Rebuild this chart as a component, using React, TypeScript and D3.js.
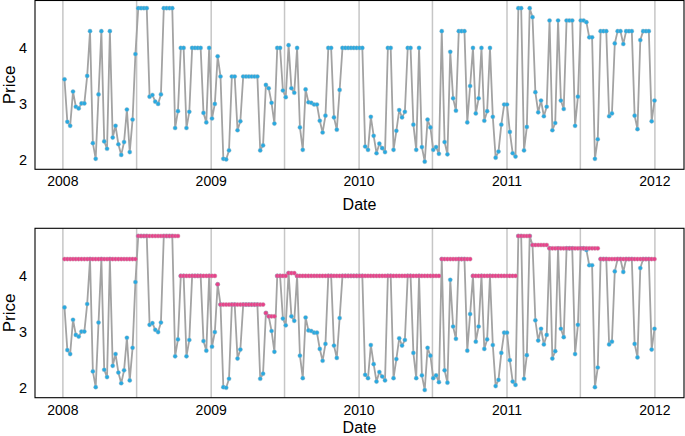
import React from "react";
import * as d3 from "d3";

const startDate = "2008-01-05";
const price: number[] = [
  3.43, 2.67, 2.6, 3.21, 2.94, 2.91, 3.0, 3.0, 3.49, 4.29,
  2.29, 2.01, 3.16, 4.29, 2.32, 2.19, 4.29, 2.39, 2.6, 2.27,
  2.08, 2.31, 2.89, 2.13, 2.71, 3.88, 4.7, 4.7, 4.7, 4.7,
  3.12, 3.15, 3.03, 2.99, 3.16, 4.7, 4.7, 4.7, 4.7, 2.56,
  2.86, 3.99, 3.99, 2.56, 2.85, 3.99, 3.99, 3.99, 3.99, 2.83,
  2.66, 3.99, 2.73, 2.99, 3.84, 3.48, 2.01, 2.0, 2.16, 3.48,
  3.48, 2.52, 2.68, 3.48, 3.48, 3.48, 3.48, 3.48, 3.48, 2.16,
  2.25, 3.33, 3.27, 3.01, 2.64, 3.99, 3.99, 3.23, 3.11, 4.04,
  3.27, 3.19, 3.99, 2.57, 2.17, 3.25, 3.02, 3.01, 2.98, 2.98,
  2.69, 2.48, 2.78, 3.99, 3.99, 2.75, 2.53, 3.24, 3.99, 3.99,
  3.99, 3.99, 3.99, 3.99, 3.99, 3.99, 2.23, 2.17, 2.76, 2.42,
  2.11, 2.28, 2.2, 2.13, 3.99, 3.99, 2.17, 2.51, 2.88, 2.75,
  2.85, 3.99, 3.99, 2.62, 2.17, 3.99, 2.22, 1.96, 2.71, 2.57,
  2.17, 2.22, 2.1, 4.29, 2.31, 2.09, 3.92, 3.09, 2.87, 4.29,
  4.29, 4.29, 2.66, 3.31, 3.99, 2.82, 3.09, 3.99, 2.69, 2.86,
  3.99, 2.76, 2.03, 2.14, 2.62, 2.98, 2.98, 2.49, 2.11, 2.05,
  4.7, 4.7, 2.16, 2.58, 4.7, 4.54, 3.2, 2.84, 3.05, 2.77,
  2.94, 4.48, 2.52, 2.65, 4.48, 3.05, 2.9, 4.48, 4.48, 4.48,
  2.6, 3.12, 4.48, 4.48, 4.45, 4.18, 4.18, 2.01, 2.36, 4.29,
  4.29, 4.29, 2.77, 2.82, 4.07, 4.29, 4.29, 4.06, 4.29, 4.29,
  4.29, 2.78, 2.54, 4.13, 4.29, 4.29, 4.29, 2.68, 3.05,
];
const regular: number[] = [
  4.29, 4.29, 4.29, 4.29, 4.29, 4.29, 4.29, 4.29, 4.29, 4.29,
  4.29, 4.29, 4.29, 4.29, 4.29, 4.29, 4.29, 4.29, 4.29, 4.29,
  4.29, 4.29, 4.29, 4.29, 4.29, 4.29, 4.7, 4.7, 4.7, 4.7,
  4.7, 4.7, 4.7, 4.7, 4.7, 4.7, 4.7, 4.7, 4.7, 4.7,
  4.7, 3.99, 3.99, 3.99, 3.99, 3.99, 3.99, 3.99, 3.99, 3.99,
  3.99, 3.99, 3.99, 3.99, 3.84, 3.48, 3.48, 3.48, 3.48, 3.48,
  3.48, 3.48, 3.48, 3.48, 3.48, 3.48, 3.48, 3.48, 3.48, 3.48,
  3.48, 3.33, 3.27, 3.27, 3.27, 3.99, 3.99, 3.99, 3.99, 4.04,
  4.04, 4.04, 3.99, 3.99, 3.99, 3.99, 3.99, 3.99, 3.99, 3.99,
  3.99, 3.99, 3.99, 3.99, 3.99, 3.99, 3.99, 3.99, 3.99, 3.99,
  3.99, 3.99, 3.99, 3.99, 3.99, 3.99, 3.99, 3.99, 3.99, 3.99,
  3.99, 3.99, 3.99, 3.99, 3.99, 3.99, 3.99, 3.99, 3.99, 3.99,
  3.99, 3.99, 3.99, 3.99, 3.99, 3.99, 3.99, 3.99, 3.99, 3.99,
  3.99, 3.99, 3.99, 4.29, 4.29, 4.29, 4.29, 4.29, 4.29, 4.29,
  4.29, 4.29, 4.29, 4.29, 3.99, 3.99, 3.99, 3.99, 3.99, 3.99,
  3.99, 3.99, 3.99, 3.99, 3.99, 3.99, 3.99, 3.99, 3.99, 3.99,
  4.7, 4.7, 4.7, 4.7, 4.7, 4.54, 4.54, 4.54, 4.54, 4.54,
  4.54, 4.48, 4.48, 4.48, 4.48, 4.48, 4.48, 4.48, 4.48, 4.48,
  4.48, 4.48, 4.48, 4.48, 4.48, 4.48, 4.48, 4.48, 4.48, 4.29,
  4.29, 4.29, 4.29, 4.29, 4.29, 4.29, 4.29, 4.29, 4.29, 4.29,
  4.29, 4.29, 4.29, 4.29, 4.29, 4.29, 4.29, 4.29, 4.29,
];
const yTicks = [2, 3, 4];
const xTickYears = [2008, 2009, 2010, 2011, 2012];

const W = 685;
const H = 436;
const FONT = "'Liberation Sans', Arial, Helvetica, sans-serif";

type Row = { date: Date; p: number; r: number };

function Panel({ top, bottom, titleY, showRegular, rows }: { top: number; bottom: number; titleY: number; showRegular: boolean; rows: Row[] }) {
  const left = 35;
  const right = 684;
  const first = rows[0].date;
  const last = rows[rows.length - 1].date;
  const span = last.getTime() - first.getTime();
  const x = d3
    .scaleTime()
    .domain([new Date(first.getTime() - span * 0.05), new Date(last.getTime() + span * 0.05)])
    .range([left, right]);
  const y = d3.scaleLinear().domain([1.823, 4.837]).range([bottom, top]);
  const line = d3
    .line<Row>()
    .x((d) => x(d.date))
    .y((d) => y(d.p));
  const grid: Date[] = [];
  xTickYears.forEach((yr) => {
    grid.push(new Date(yr, 0, 1));
    if (yr < 2012) grid.push(new Date(yr, 6, 1));
  });
  return (
    <g>
      {grid.map((g, i) => (
        <line key={i} x1={x(g)} x2={x(g)} y1={top} y2={bottom} stroke="#c6c6c6" strokeWidth={1.5} />
      ))}
      <path d={line(rows) || ""} fill="none" stroke="#a3a3a3" strokeWidth={1.8} strokeLinejoin="round" />
      {rows.map((d, i) => (
        <circle key={"b" + i} cx={x(d.date)} cy={y(d.p)} r={2.1} fill="#27a9e1" stroke="#9fb5c0" strokeWidth={0.4} />
      ))}
      {showRegular &&
        rows.map((d, i) => (
          <circle key={"r" + i} cx={x(d.date)} cy={y(d.r)} r={2.1} fill="#e8418a" stroke="#c0a0ae" strokeWidth={0.4} />
        ))}
      <rect x={left} y={top} width={right - left} height={bottom - top} fill="none" stroke="#000" strokeWidth={1.1} />
      {yTicks.map((t) => (
        <text key={t} x={27} y={y(t)} dy="0.36em" textAnchor="end" fontSize={14.5} fontFamily={FONT} fill="#000">
          {t}
        </text>
      ))}
      {xTickYears.map((yr) => (
        <text key={yr} x={x(new Date(yr, 0, 1))} y={bottom + 17} textAnchor="middle" fontSize={14} fontFamily={FONT} fill="#000">
          {yr}
        </text>
      ))}
      <text
        transform={`translate(15,${(top + bottom) / 2}) rotate(-90)`}
        textAnchor="middle"
        fontSize={17}
        fontFamily={FONT}
        fill="#000"
      >
        Price
      </text>
      <text x={(left + right) / 2} y={titleY} textAnchor="middle" fontSize={16} fontFamily={FONT} fill="#000">
        Date
      </text>
    </g>
  );
}

export default function App() {
  const t0 = d3.timeParse("%Y-%m-%d")(startDate) as Date;
  const rows: Row[] = price.map((p, i) => ({ date: d3.timeDay.offset(t0, 7 * i), p, r: regular[i] }));
  return (
    <svg width={W} height={H} style={{ position: "absolute", left: 0, top: 0, background: "#fff" }}>
      <Panel top={0.5} bottom={169.3} titleY={210} showRegular={false} rows={rows} />
      <Panel top={228.3} bottom={397.7} titleY={432.5} showRegular={true} rows={rows} />
    </svg>
  );
}
